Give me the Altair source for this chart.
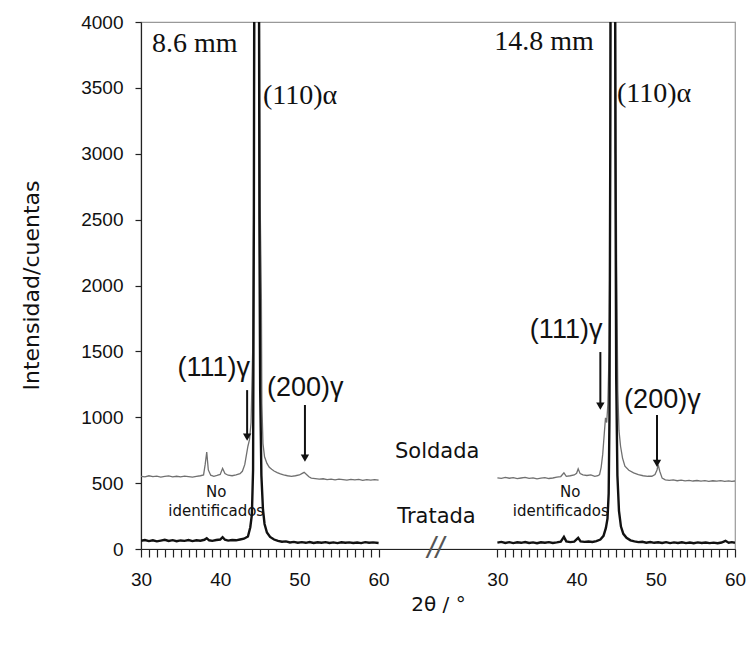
import altair as alt
import pandas as pd

# ---------------- data ----------------
# Left panel: 8.6 mm
ls_x = [30.0, 30.5, 31.0, 31.5, 32.0, 32.5, 33.0, 33.5, 34.0, 34.5, 35.0, 35.5, 36.0, 36.5, 37.0, 37.5,
        37.9, 38.1, 38.3, 38.5, 38.8, 39.2, 39.6, 40.0, 40.3, 40.6, 41.0, 41.5, 42.0, 42.5, 42.8, 43.1,
        43.3, 43.5, 43.7, 43.9, 44.1, 44.3, 44.5, 44.7, 44.95, 45.05, 45.2, 45.26, 45.4, 45.6, 45.9, 46.2,
        46.5, 46.8, 47.2, 47.6, 48.0, 48.5, 49.0, 49.5, 50.0, 50.3, 50.6, 50.9, 51.2, 51.5, 52.0, 52.5,
        53.0, 53.5, 54.0, 54.5, 55.0, 55.5, 56.0, 56.5, 57.0, 57.5, 58.0, 58.5, 59.0, 59.5, 60.0]
ls_y = [552, 548, 556, 549, 553, 546, 551, 555, 548, 552, 547, 553, 549, 545, 551, 556,
        562, 640, 735, 600, 560, 552, 558, 566, 612, 572, 560, 556, 562, 572, 590, 640,
        710, 780, 830, 960, 1500, 3200, 7000, 8000, 4000, 2600, 1900, 1100, 800, 700, 650, 620,
        605, 592, 580, 570, 562, 556, 551, 556, 562, 572, 582, 566, 548, 538, 534, 530,
        533, 527, 531, 525, 530, 527, 523, 529, 524, 528, 521, 526, 523, 527, 522]

lt_x = [30.0, 30.5, 31.0, 31.5, 32.0, 32.5, 33.0, 33.5, 34.0, 34.5, 35.0, 35.5, 36.0, 36.5, 37.0, 37.5,
        38.0, 38.3, 38.6, 39.0, 39.5, 40.0, 40.3, 40.6, 41.0, 41.5, 42.0, 42.5, 43.0, 43.5, 43.8, 44.0,
        44.15, 44.25, 44.6, 44.95, 45.05, 45.2, 45.4, 45.6, 45.9, 46.3, 46.8, 47.3, 47.8, 48.3, 48.8, 49.3,
        49.8, 50.3, 50.8, 51.3, 51.8, 52.3, 52.8, 53.3, 53.8, 54.3, 54.8, 55.3, 55.8, 56.3, 56.8, 57.3,
        57.8, 58.3, 58.8, 59.3, 60.0]
lt_y = [62, 68, 60, 66, 58, 64, 70, 61, 67, 59, 65, 62, 68, 60, 66, 63,
        70, 82, 66, 62, 68, 72, 90, 70, 64, 68, 66, 72, 78, 95, 165, 260,
        600, 2500, 15000, 2500, 1200, 560, 300, 190, 125, 92, 72, 62, 55, 58, 50, 54,
        48, 52, 47, 53, 46, 51, 47, 52, 46, 50, 45, 51, 47, 50, 46, 49,
        45, 52, 47, 50, 46]

# Right panel: 14.8 mm
rs_x = [30.0, 30.5, 31.0, 31.5, 32.0, 32.5, 33.0, 33.5, 34.0, 34.5, 35.0, 35.5, 36.0, 36.5, 37.0, 37.5,
        38.0, 38.4, 38.7, 39.2, 39.7, 40.0, 40.2, 40.45, 40.8, 41.3, 41.8, 42.3, 42.7, 42.9, 43.1, 43.3,
        43.5, 43.65, 43.8, 43.95, 44.1, 44.25, 44.4, 44.7, 44.9, 45.05, 45.2, 45.35, 45.55, 45.8, 46.1, 46.6,
        47.2, 47.8, 48.4, 49.0, 49.5, 49.9, 50.15, 50.3, 50.5, 50.8, 51.2, 51.7, 52.2, 52.7, 53.2, 53.7,
        54.2, 54.7, 55.2, 55.7, 56.2, 56.7, 57.2, 57.7, 58.2, 58.7, 59.2, 59.6, 60.0]
rs_y = [540, 536, 543, 537, 541, 534, 539, 544, 536, 540, 533, 538, 542, 535, 539, 545,
        550, 578, 552, 556, 562, 575, 608, 572, 562, 558, 563, 552, 556, 565, 620, 720,
        880, 995, 960, 1100, 1500, 2600, 6000, 9000, 4200, 2200, 1200, 900, 780, 690, 628, 598,
        578, 565, 556, 552, 552, 565, 600, 640, 590, 538, 525, 521, 524, 518, 522, 517,
        521, 516, 520, 515, 519, 514, 518, 515, 519, 514, 517, 513, 516]

rt_x = [30.0, 30.5, 31.0, 31.5, 32.0, 32.5, 33.0, 33.5, 34.0, 34.5, 35.0, 35.5, 36.0, 36.5, 37.0, 37.5,
        38.0, 38.4, 38.7, 39.2, 39.7, 40.2, 40.5, 41.0, 41.5, 42.0, 42.5, 43.0, 43.4, 43.7, 43.9, 44.05,
        44.15, 44.25, 44.55, 44.9, 45.0, 45.15, 45.35, 45.6, 45.9, 46.3, 46.8, 47.3, 47.8, 48.3, 48.8, 49.3,
        49.8, 50.3, 50.8, 51.3, 51.8, 52.3, 52.8, 53.3, 53.8, 54.3, 54.8, 55.3, 55.8, 56.3, 56.8, 57.3,
        57.8, 58.3, 58.8, 59.2, 59.6, 60.0]
rt_y = [48, 54, 46, 52, 45, 51, 47, 53, 46, 50, 44, 51, 47, 52, 46, 50,
        55, 92, 58, 52, 56, 85, 58, 54, 57, 53, 60, 72, 100, 160, 230, 420,
        1000, 3000, 15000, 3000, 1300, 560, 290, 170, 115, 85, 66, 58, 52, 55, 48, 53,
        47, 51, 46, 52, 45, 50, 46, 51, 45, 49, 44, 50, 46, 49, 45, 48,
        44, 49, 62, 48, 52, 47]

# tick positions on the shared axis (right panel shifted by 45 units)
gap_offset = 45
tick_values = list(range(30, 61)) + [v + gap_offset for v in range(30, 61)]
y_ticks = [0, 500, 1000, 1500, 2000, 2500, 3000, 3500, 4000]

# annotation texts
ann_text = ["8.6 mm", "14.8 mm", "(110)α", "(110)α"]
ann_tt = [31.4, 29.6, 45.4, 45.1]
ann_panel = ["izq", "der", "izq", "der"]
ann_i = [3830, 3845, 3440, 3455]

lab_text = ["(111)γ", "(200)γ", "(111)γ", "(200)γ"]
lab_tt = [34.6, 45.9, 34.1, 46.0]
lab_panel = ["izq", "izq", "der", "der"]
lab_i = [1373, 1222, 1662, 1130]

small_text = ["No", "identificados", "No", "identificados"]
small_tt = [39.5, 39.5, 39.2, 38.0]
small_panel = ["izq", "izq", "der", "der"]
small_i = [432, 288, 432, 288]

mid_text = ["Soldada", "Tratada"]
mid_tt = [67.4, 67.3]
mid_panel = ["izq", "izq"]
mid_i = [736, 243]

arrow_tt = [43.4, 50.7, 43.0, 50.15]
arrow_panel = ["izq", "izq", "der", "der"]
arrow_top = [1206, 1093, 1495, 1017]
arrow_tip = [850, 690, 1085, 650]

# ---------------- build tables ----------------
def trace(x, y, panel, serie):
    return pd.DataFrame({"tt": x, "I": y, "panel": panel, "serie": serie})

spec = pd.concat([
    trace(ls_x, ls_y, "izq", "Soldada"),
    trace(lt_x, lt_y, "izq", "Tratada"),
    trace(rs_x, rs_y, "der", "Soldada"),
    trace(rt_x, rt_y, "der", "Tratada"),
], ignore_index=True)

pos_expr = f"datum.tt + (datum.panel == 'der' ? {gap_offset} : 0)"

x_scale = alt.Scale(domain=[30, 60 + gap_offset], nice=False, zero=False)
y_scale = alt.Scale(domain=[0, 4000], nice=False)

label_expr = (
    "datum.value <= 60 ? (datum.value % 10 == 0 ? toString(datum.value) : '') : "
    f"((datum.value - {gap_offset}) % 10 == 0 ? toString(datum.value - {gap_offset}) : '')"
)

x_axis = alt.Axis(values=tick_values, labelExpr=label_expr, labelOverlap=False, labelFlush=False,
                  grid=False, title="2θ / °", titleFontSize=20, titleFont="DejaVu Sans", titlePadding=5,
                  labelFontSize=19, labelPadding=13, tickSize=8, ticks=True)
y_axis = alt.Axis(values=y_ticks, format="d", grid=False, title="Intensidad/cuentas",
                  titleFont="DejaVu Sans", titleFontSize=22,
                  labelFontSize=19, labelPadding=12, tickSize=6,
                  titleAngle=-90, titleX=-110, titleY=263, titleAlign="center", titleBaseline="middle")

X = lambda f: alt.X(f, scale=x_scale, axis=x_axis)
Y = lambda f: alt.Y(f, scale=y_scale, axis=y_axis)

base = alt.Chart(spec).transform_calculate(pos=pos_expr)

sold = base.transform_filter("datum.serie == 'Soldada'").mark_line(
    color="#707070", strokeWidth=1.3, clip=True
).encode(x=X("pos:Q"), y=Y("I:Q"), detail="panel:N", order="tt:Q")
trat = base.transform_filter("datum.serie == 'Tratada'").mark_line(
    color="#111111", strokeWidth=2.4, clip=True
).encode(x=X("pos:Q"), y=Y("I:Q"), detail="panel:N", order="tt:Q")

def text_layer(texts, tts, panels, ivals, **mk):
    df = pd.DataFrame({"t": texts, "tt": tts, "panel": panels, "I": ivals})
    return alt.Chart(df).transform_calculate(pos=pos_expr).mark_text(**mk).encode(
        x=X("pos:Q"), y=Y("I:Q"), text="t:N")

ann = text_layer(ann_text, ann_tt, ann_panel, ann_i, font="Liberation Serif", fontSize=28,
                 align="left", baseline="middle", color="#111")
labs = text_layer(lab_text, lab_tt, lab_panel, lab_i, font="Liberation Sans", fontSize=27,
                  align="left", baseline="middle", color="#111")
small = text_layer(small_text, small_tt, small_panel, small_i, font="DejaVu Sans", fontSize=15,
                   align="center", baseline="middle", color="#111")
mid = text_layer(mid_text, mid_tt, mid_panel, mid_i, font="DejaVu Sans", fontSize=21,
                 align="center", baseline="middle", color="#111")
brk = text_layer(["//"], [22.2], ["der"], [0], font="Liberation Sans", fontSize=30, fontStyle="italic",
                 color="#555", align="center", baseline="middle")

arr_df = pd.DataFrame({"tt": arrow_tt, "panel": arrow_panel, "top": arrow_top, "tip": arrow_tip})
arr_base = alt.Chart(arr_df).transform_calculate(pos=pos_expr)
arr_rule = arr_base.mark_rule(color="#111", strokeWidth=2).encode(
    x=X("pos:Q"), y=Y("top:Q"), y2="tip:Q")
arr_head = arr_base.mark_point(shape="triangle-down", filled=True, size=70, color="#111", opacity=1).encode(
    x=X("pos:Q"), y=Y("tip:Q"))

chart = alt.layer(sold, trat, ann, labs, small, mid, brk, arr_rule, arr_head).properties(
    width=594, height=527,
    autosize=alt.AutoSizeParams(type="none"),
    padding={"left": 141, "top": 22, "right": 13, "bottom": 100},
    background="white",
).configure_view(stroke="#999999", strokeWidth=1.2).configure_axis(
    labelFont="Liberation Sans", labelColor="#111", titleColor="#111",
    domainColor="#222", tickColor="#222", titleFontWeight="normal", domainWidth=1.2, tickWidth=1.2,
)

chart.save("out.html", embed_options={"renderer": "svg", "actions": False})
